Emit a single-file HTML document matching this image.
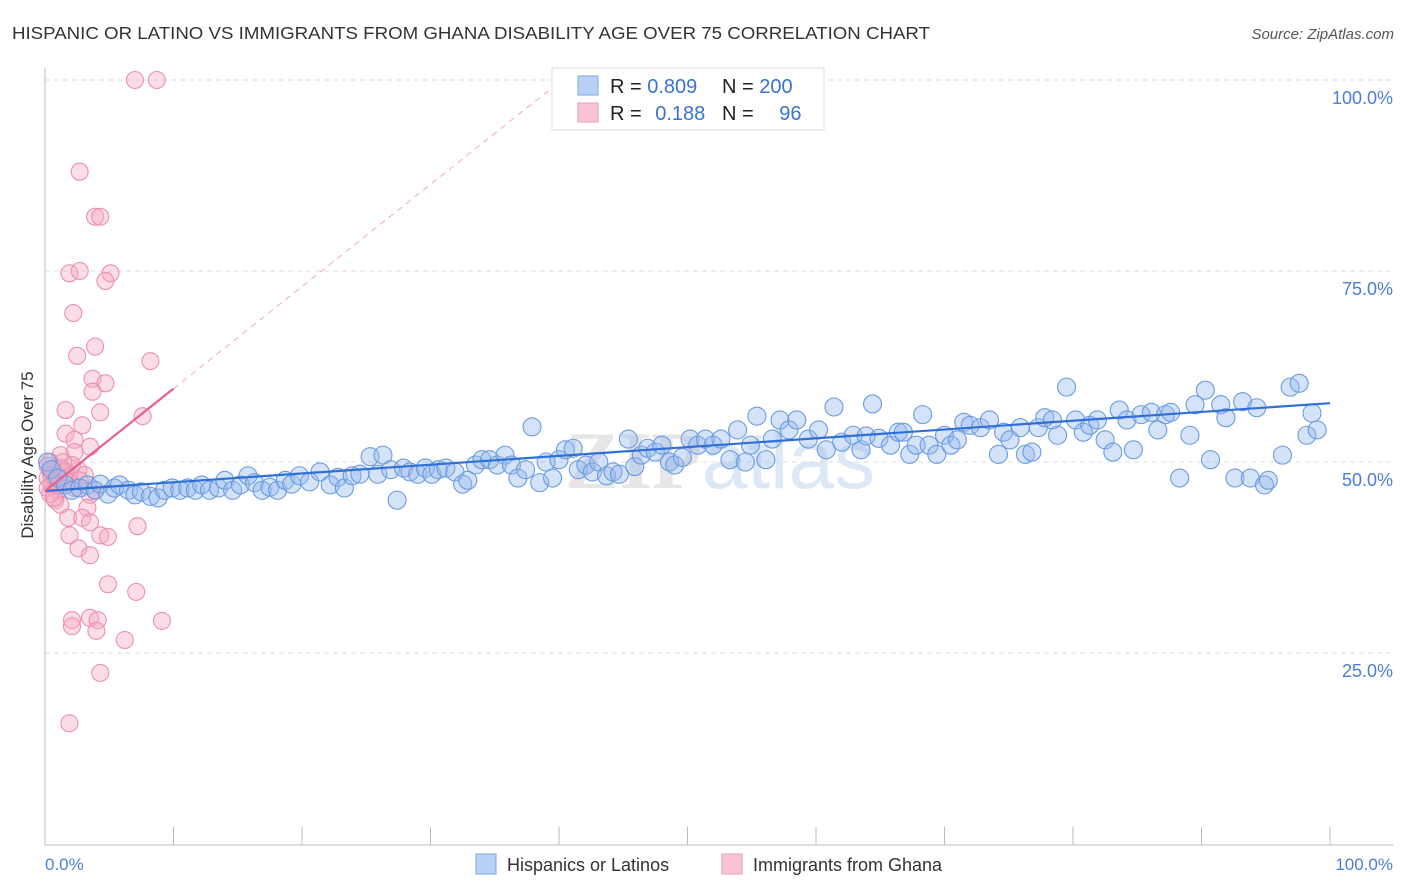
<!DOCTYPE html>
<html><head><meta charset="utf-8"><style>
body{margin:0;background:#fff;font-family:"Liberation Sans",sans-serif;}
svg{display:block}
</style></head><body>
<svg id="chart" width="1406" height="892">
<text x="12" y="39" font-size="17.5" fill="#333" textLength="918" lengthAdjust="spacingAndGlyphs">HISPANIC OR LATINO VS IMMIGRANTS FROM GHANA DISABILITY AGE OVER 75 CORRELATION CHART</text>
<text x="1394" y="39" font-size="15" fill="#555" font-style="italic" text-anchor="end">Source: ZipAtlas.com</text>
<text x="720" y="488" font-size="82" fill="#e6e6e6" font-weight="bold" text-anchor="middle" font-family="Liberation Serif,serif">ZIP<tspan fill="#dde8f6" font-family="Liberation Sans,sans-serif" font-weight="normal">atlas</tspan></text>
<g id="grid"></g><g id="axes"></g><g id="pinkpts"></g><g id="bluepts"></g><g id="lines"></g>
<text transform="translate(33,455) rotate(-90)" font-size="17" fill="#333" text-anchor="middle">Disability Age Over 75</text>
<text x="45" y="870" font-size="17" fill="#4a7fd4">0.0%</text>
<text x="1393" y="870" font-size="17" fill="#4a7fd4" text-anchor="end">100.0%</text>
<g>
<rect x="552" y="68" width="272" height="62" fill="#fff" stroke="#ddd"/>
<rect x="578" y="76" width="20" height="19" fill="#b8d0f4" stroke="#7aa6e6"/>
<rect x="578" y="103" width="20" height="19" fill="#f8c4d4" stroke="#ee9ab4"/>
<text x="610" y="93" font-size="20" fill="#222">R = <tspan fill="#3a72d0">0.809</tspan></text>
<text x="722" y="93" font-size="20" fill="#222">N = <tspan fill="#3a72d0">200</tspan></text>
<text x="610" y="120" font-size="20" fill="#222">R = <tspan fill="#3a72d0" dx="8">0.188</tspan></text>
<text x="722" y="120" font-size="20" fill="#222">N = <tspan fill="#3a72d0" dx="20">96</tspan></text>
</g>
<g>
<rect x="476" y="854" width="20" height="20" fill="#b8d0f4" stroke="#7aa6e6"/>
<text x="507" y="871" font-size="18" fill="#333">Hispanics or Latinos</text>
<rect x="722" y="854" width="20" height="20" fill="#f8c4d4" stroke="#ee9ab4"/>
<text x="753" y="871" font-size="18" fill="#333">Immigrants from Ghana</text>
</g>
</svg>
<script>
const yTicks=[25,50,75,100];
const yTickLabels=["25.0%","50.0%","75.0%","100.0%"];
const xTicks=[0,10,20,30,40,50,60,70,80,90,100];
const blueX=[0.2,0.5,1,1.6,2.1,2.7,3.3,3.9,4.3,4.9,5.4,5.8,6.5,7,7.5,8.2,8.8,9.3,9.9,10.5,11.1,11.7,12.2,12.8,13.5,14,14.6,15.2,15.8,16.3,16.9,17.5,18.1,18.7,19.2,19.8,20.6,21.4,22.2,22.8,23.3,23.9,24.5,25.3,25.9,26.3,26.9,27.4,27.9,28.4,29,29.6,30.1,30.6,31.2,31.9,32.5,32.9,33.5,34,34.6,35.2,35.8,36.3,36.8,37.4,37.9,38.5,39,39.5,40,40.5,41.1,41.5,42.1,42.6,43.1,43.7,44.2,44.7,45.4,45.9,46.4,46.9,47.5,48,48.6,49,49.6,50.2,50.8,51.4,52,52.6,53.3,53.9,54.5,54.9,55.4,56.1,56.6,57.2,57.9,58.5,59.4,60.2,60.8,61.4,62,62.9,63.5,63.9,64.4,64.9,65.8,66.4,66.8,67.3,67.8,68.3,68.8,69.4,70,70.5,71,71.5,72,72.8,73.5,74.2,74.6,75.1,75.9,76.3,76.8,77.3,77.8,78.4,78.8,79.5,80.2,80.8,81.3,81.9,82.5,83.1,83.6,84.2,84.7,85.3,86.1,86.6,87.2,87.6,88.3,89.1,89.5,90.3,90.7,91.5,91.9,92.6,93.2,93.8,94.3,94.9,95.2,96.3,96.9,97.6,98.2,98.6,99];
const blueY=[50,49,47.9,47,46.3,46.6,47,46.3,47.1,45.8,46.6,47,46.3,45.7,46.1,45.5,45.3,46.3,46.6,46.3,46.6,46.3,47,46.3,46.6,47.6,46.3,47,48.2,47.3,46.3,46.7,46.3,47.6,47.1,48.2,47.4,48.7,47,48,46.6,48.2,48.4,50.7,48.4,50.9,49,45,49.2,48.7,48.4,49.2,48.4,49,49.2,48.7,47.1,47.6,49.6,50.3,50.3,49.6,50.9,49.6,47.9,49,54.6,47.3,50,47.9,50.3,51.6,51.8,49,49.6,48.7,50,48.2,48.7,48.4,53,49.4,50.9,51.8,51.3,52.2,50,49.6,50.6,53,52.2,53,52.2,53,50.3,54.2,50,52.2,56,50.3,53,55.5,54.2,55.5,53,54.2,51.6,57.2,52.6,53.5,51.6,53.4,57.6,53.1,52.2,53.9,53.9,51,52.2,56.2,52.2,51,53.5,52.2,52.9,55.2,54.8,54.5,55.5,51,53.9,52.9,54.5,51,51.3,54.5,55.8,55.5,53.5,59.8,55.5,53.9,54.8,55.5,52.9,51.3,56.8,55.5,51.6,56.2,56.5,54.2,56.2,56.5,47.9,53.5,57.5,59.4,50.3,57.5,55.8,47.9,57.9,47.9,57.1,47,47.6,50.9,59.8,60.3,53.5,56.4,54.2,60.5,56.2,64.7,62,64.7,61.4,62,63,64.7];
const pinkX=[7,8.7,2.7,3.9,4.3,1.9,2.7,5.1,4.7,2.2,2.5,3.9,8.2,3.7,4.7,3.7,4.3,1.6,7.6,2.9,1.6,2.3,3.5,2.3,1.2,0.4,0.8,1.3,1.9,0.2,0.5,1,1.6,2.6,3.1,2.1,3.5,0.8,1.2,3.3,1.8,2.9,3.5,7.2,1.9,4.3,4.9,2.6,3.5,4.9,7.1,2.1,3.5,4.1,2.1,4,6.2,9.1,4.3,1.9,0.4,0.5,0.8,1,1.2,1.3,1.6,1.8,0.2,0.4,0.7,1,1.4,0.2,2.3,2.7,3.9];
const pinkY=[100,100,88,82.1,82.1,74.7,75,74.7,73.7,69.5,63.9,65.1,63.2,60.9,60.3,59.2,56.5,56.8,56,54.8,53.7,52.9,52,51.3,50.9,50,49.2,48.7,48.3,47.9,47,46.3,47.6,48.9,48.3,49.6,45.7,45,44.4,44,42.7,42.7,42.1,41.6,40.4,40.4,40.2,38.7,37.8,34,33,29.3,29.6,29.3,28.5,27.9,26.7,29.2,22.4,15.8,49,48.3,47.6,47.9,49,49.2,48.7,47.4,46.6,45.8,45.3,46.9,50,49.5,46.6,47.6,46.3];
const blueTrend=[[0,46.2],[100,57.7]];
const pinkTrend=[[0,46.2],[10,59.6]];
const pinkDash=[[10,59.6],[39.7,99.3]];

const X0=45,X1=1330,Y0=844,Y100=80;
const sx=v=>X0+(X1-X0)*v/100;
const sy=v=>Y0-(Y0-Y100)*v/100;
const NS="http://www.w3.org/2000/svg";
function mk(tag,parent,attrs){const e=document.createElementNS(NS,tag);for(const k in attrs)e.setAttribute(k,attrs[k]);parent.appendChild(e);return e;}
const grid=document.getElementById('grid'),axes=document.getElementById('axes');
yTicks.forEach((t,i)=>{
  const l=mk('line',grid,{x1:45,x2:1393,y1:sy(t),y2:sy(t),stroke:'#ddd','stroke-dasharray':'5,4'});
  
  
  const tx=mk('text',grid,{x:1393,y:sy(t)+24,'font-size':18,fill:'#4a7fd4','text-anchor':'end'});
  tx.textContent=yTickLabels[i];
  
  
});
const xa=mk('line',axes,{x1:45,x2:1393,y1:845,y2:845,stroke:'#bbb'});


const ya=mk('line',axes,{x1:45,x2:45,y1:68,y2:845,stroke:'#bbb'});


xTicks.forEach(t=>{
  const l=mk('line',axes,{x1:sx(t),x2:sx(t),y1:827,y2:845,stroke:'#bbb'});
  
  
});
const pg=document.getElementById('pinkpts');
pinkX.forEach((x,i)=>{
  const c=mk('circle',pg,{cx:sx(x),cy:sy(pinkY[i]),r:8.5,fill:'rgba(246,170,196,0.4)',stroke:'#ec8fae','stroke-width':1.1});
  
  
});
const bg=document.getElementById('bluepts');
blueX.forEach((x,i)=>{
  const c=mk('circle',bg,{cx:sx(x),cy:sy(blueY[i]),r:9,fill:'rgba(150,185,238,0.4)',stroke:'#6a9be0','stroke-width':1.1});
  
  
});
const lg=document.getElementById('lines');
const bl=mk('line',lg,{x1:sx(blueTrend[0][0]),y1:sy(blueTrend[0][1]),x2:sx(blueTrend[1][0]),y2:sy(blueTrend[1][1]),stroke:'#2f6fd6','stroke-width':2.2});


const pl=mk('line',lg,{x1:sx(pinkTrend[0][0]),y1:sy(pinkTrend[0][1]),x2:sx(pinkTrend[1][0]),y2:sy(pinkTrend[1][1]),stroke:'#e8608a','stroke-width':2.2});


const pd=mk('line',lg,{x1:sx(pinkDash[0][0]),y1:sy(pinkDash[0][1]),x2:sx(pinkDash[1][0]),y2:sy(pinkDash[1][1]),stroke:'#eeaabf','stroke-width':1,'stroke-dasharray':'6,5'});


</script>
</body></html>
